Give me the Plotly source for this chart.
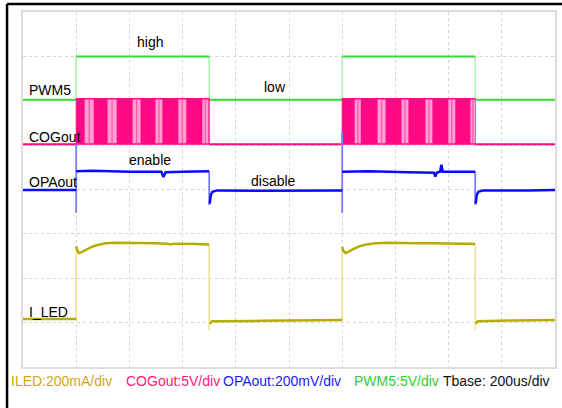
import plotly.graph_objects as go

# ---------------- data (time in us, amplitude in screen divisions from bottom) -------------
EDGES_US = [200, 700, 1200, 1700]          # PWM5 rising / falling edges
X_TICKS_US = [0, 200, 400, 600, 800, 1000, 1200, 1400, 1600, 1800, 2000]
Y_TICKS_DIV = [0, 1, 2, 3, 4, 5, 6, 7, 8]

PWM_LOW, PWM_HIGH = 6.02, 7.0
COG_LOW, COG_HIGH = 5.02, 6.05
OPA_LOW, OPA_HIGH = 4.0, 4.41

# COGout light stripes inside the switching bursts (start, end in us)
cog_stripe_start = [232, 318, 412, 498, 584, 674, 1247, 1333, 1423, 1513, 1599, 1682]
cog_stripe_end = [266, 352, 442, 524, 614, 697, 1270, 1363, 1449, 1539, 1625, 1700]

# OPAout trace
opa_t = [0, 200, None, 200, 260, 400, 520, 528, 536, 600, 700, None,
         702, 706, 712, 730, 900, 1200, None,
         1200, 1300, 1450, 1545, 1550, 1556, 1568, 1573, 1578, 1650, 1700, None,
         1702, 1706, 1712, 1730, 1900, 2000]
opa_v = [3.99, 3.99, None, 4.41, 4.42, 4.40, 4.40, 4.28, 4.39, 4.40, 4.41, None,
         3.68, 3.88, 3.95, 3.98, 3.97, 3.98, None,
         4.40, 4.41, 4.39, 4.38, 4.29, 4.38, 4.40, 4.56, 4.40, 4.39, 4.40, None,
         3.68, 3.88, 3.95, 3.98, 3.98, 3.99]
# OPAout edge spikes (x, y_top, y_bottom)
opa_spike_t = [200, 700, 1200, 1700]
opa_spike_top = [5.02, 4.41, 5.30, 4.40]
opa_spike_bot = [3.47, 3.65, 3.47, 3.65]

# I_LED trace
iled_t = [0, 200, None,
          200, 204, 210, 220, 240, 260, 280, 310, 350, 400, 450, 500, 540, 555, 570, 600, 650, 700, None,
          702, 710, 900, 1200, None,
          1200, 1204, 1213, 1225, 1245, 1265, 1290, 1326, 1370, 1420, 1480, 1540, 1600, 1635, 1650, 1680, 1700, None,
          1702, 1710, 1850, 2000]
iled_v = [1.08, 1.08, None,
          2.72, 2.63, 2.57, 2.59, 2.65, 2.71, 2.75, 2.79, 2.80, 2.80, 2.79, 2.79, 2.78, 2.76, 2.78, 2.78, 2.77, 2.76, None,
          0.98, 1.03, 1.04, 1.06, None,
          2.71, 2.62, 2.57, 2.60, 2.67, 2.72, 2.76, 2.79, 2.80, 2.79, 2.79, 2.79, 2.78, 2.77, 2.78, 2.78, 2.77, None,
          0.98, 1.03, 1.05, 1.06]
iled_edge_top = [2.72, 2.76, 2.71, 2.77]
iled_edge_bot = [1.08, 0.83, 1.06, 0.83]

# texts
signal_labels = ["PWM5", "COGout", "OPAout", "I_LED"]
signal_label_y = [6.24, 5.19, 4.18, 1.25]
state_labels = ["high", "low", "enable", "disable"]
state_label_x = [479, 948, 476, 940]
state_label_y = [7.32, 6.31, 4.66, 4.19]
scale_labels = ["ILED:200mA/div", "COGout:5V/div", "OPAout:200mV/div", "PWM5:5V/div", "Tbase: 200us/div"]
scale_colors = ["#d4a41c", "#ff1a75", "#1a1aff", "#33cc33", "#111111"]
scale_x_px = [9, 124, 222, 353, 443]

GREEN, GREEN_EDGE = "#35dc35", "#a8f5a8"
PINK, PINK_LIGHT = "#ff0a86", "#ff9fd2"
BLUE, BLUE_EDGE = "#0a0aff", "#7a7aff"
OLIVE, OLIVE_EDGE = "#b5ae00", "#ece08a"

# ---------------- helpers ----------------
def pairs(lst):
    return list(zip(lst[0::2], lst[1::2]))

def vsegs(xs, tops, bots):
    x, y = [], []
    for a, t, b in zip(xs, tops, bots):
        x += [a, a, None]
        y += [b, t, None]
    return x, y

fig = go.Figure()

# PWM5
pwm_x, pwm_y = [], []
bounds = [0] + EDGES_US + [2000]
for i in range(len(bounds) - 1):
    lvl = PWM_LOW if i % 2 == 0 else PWM_HIGH
    pwm_x += [bounds[i], bounds[i + 1], None]
    pwm_y += [lvl, lvl, None]
ex, ey = vsegs(EDGES_US, [PWM_HIGH] * 4, [PWM_LOW] * 4)
fig.add_trace(go.Scatter(x=ex, y=ey, mode="lines", line=dict(color=GREEN_EDGE, width=1.5), hoverinfo="skip"))
fig.add_trace(go.Scatter(x=pwm_x, y=pwm_y, mode="lines", line=dict(color=GREEN, width=2), hoverinfo="skip"))

# COGout low segments and bursts
cog_x, cog_y = [], []
for i in range(0, len(bounds) - 1, 2):
    cog_x += [bounds[i], bounds[i + 1], None]
    cog_y += [COG_LOW, COG_LOW, None]
fig.add_trace(go.Scatter(x=cog_x, y=cog_y, mode="lines", line=dict(color=PINK, width=2), hoverinfo="skip"))
bx, by = [], []
for r, f in pairs(EDGES_US):
    bx += [r, r, f, f, r, None]
    by += [COG_LOW, COG_HIGH, COG_HIGH, COG_LOW, COG_LOW, None]
fig.add_trace(go.Scatter(x=bx, y=by, mode="lines", fill="toself", fillcolor=PINK,
                         line=dict(color=PINK, width=1), hoverinfo="skip"))
sx, sy = [], []
for a, b in zip(cog_stripe_start, cog_stripe_end):
    sx += [a, a, b, b, a, None]
    sy += [COG_LOW + 0.02, COG_HIGH - 0.02, COG_HIGH - 0.02, COG_LOW + 0.02, COG_LOW + 0.02, None]
fig.add_trace(go.Scatter(x=sx, y=sy, mode="lines", fill="toself", fillcolor=PINK_LIGHT,
                         line=dict(color=PINK_LIGHT, width=0), hoverinfo="skip"))
mx, my = vsegs([(a + b) / 2 for a, b in zip(cog_stripe_start, cog_stripe_end)],
               [COG_HIGH - 0.02] * len(cog_stripe_start), [COG_LOW + 0.02] * len(cog_stripe_start))
fig.add_trace(go.Scatter(x=mx, y=my, mode="lines", line=dict(color="#ff55aa", width=1.2), hoverinfo="skip"))

# OPAout
ox, oy = vsegs(opa_spike_t, opa_spike_top, opa_spike_bot)
fig.add_trace(go.Scatter(x=ox, y=oy, mode="lines", line=dict(color=BLUE_EDGE, width=1.8), hoverinfo="skip"))
fig.add_trace(go.Scatter(x=opa_t, y=opa_v, mode="lines", line=dict(color=BLUE, width=2.5), hoverinfo="skip"))

# I_LED
ix, iy = vsegs(EDGES_US, iled_edge_top, iled_edge_bot)
fig.add_trace(go.Scatter(x=ix, y=iy, mode="lines", line=dict(color=OLIVE_EDGE, width=1.5), hoverinfo="skip"))
fig.add_trace(go.Scatter(x=iled_t, y=iled_v, mode="lines", line=dict(color=OLIVE, width=2.5), hoverinfo="skip"))

# channel ground markers at the left edge
fig.add_trace(go.Scatter(x=[-18, -18, -18, -18], y=[PWM_LOW, COG_LOW, 1.12, 0.68], mode="markers",
                         marker=dict(symbol="triangle-right", size=4,
                                     color=[GREEN, PINK, OLIVE, "#6a6aff"]),
                         cliponaxis=False, hoverinfo="skip"))

annotations = []
for t, y in zip(signal_labels, signal_label_y):
    annotations.append(dict(x=16, y=y, xref="x", yref="y", text=t, showarrow=False,
                            xanchor="left", yanchor="middle",
                            font=dict(family="Liberation Sans", size=14, color="#000")))
for t, x, y in zip(state_labels, state_label_x, state_label_y):
    annotations.append(dict(x=x, y=y, xref="x", yref="y", text=t, showarrow=False,
                            xanchor="center", yanchor="middle",
                            font=dict(family="Liberation Sans", size=14, color="#000")))
for t, c, xp in zip(scale_labels, scale_colors, scale_x_px):
    annotations.append(dict(x=(xp - 23) / 534, y=-0.040, xref="paper", yref="paper", text=t,
                            showarrow=False, xanchor="left", yanchor="middle",
                            font=dict(family="Liberation Sans", size=14, color=c)))

shapes = [
    dict(type="line", xref="paper", yref="paper", x0=-0.030, x1=-0.030, y0=-0.2, y1=1.0225,
         line=dict(color="black", width=2.5)),
    dict(type="line", xref="paper", yref="paper", x0=-0.030, x1=1.02, y0=1.0225, y1=1.0225,
         line=dict(color="black", width=2.5)),
]

fig.update_layout(
    width=562, height=408,
    margin=dict(l=23, r=5, t=12, b=41),
    paper_bgcolor="white", plot_bgcolor="white",
    showlegend=False,
    annotations=annotations,
    shapes=shapes,
    xaxis=dict(range=[0, 2000], tickvals=X_TICKS_US, showticklabels=False, ticks="",
               showgrid=True, gridcolor="#d4d4d4", griddash="dot", gridwidth=1,
               zeroline=False, showline=True, mirror=True, linecolor="#dcdcdc", linewidth=2),
    yaxis=dict(range=[0, 8], tickvals=Y_TICKS_DIV, showticklabels=False, ticks="",
               showgrid=True, gridcolor="#d4d4d4", griddash="dot", gridwidth=1,
               zeroline=False, showline=True, mirror=True, linecolor="#dcdcdc", linewidth=2),
)

fig.write_html("out.html")
